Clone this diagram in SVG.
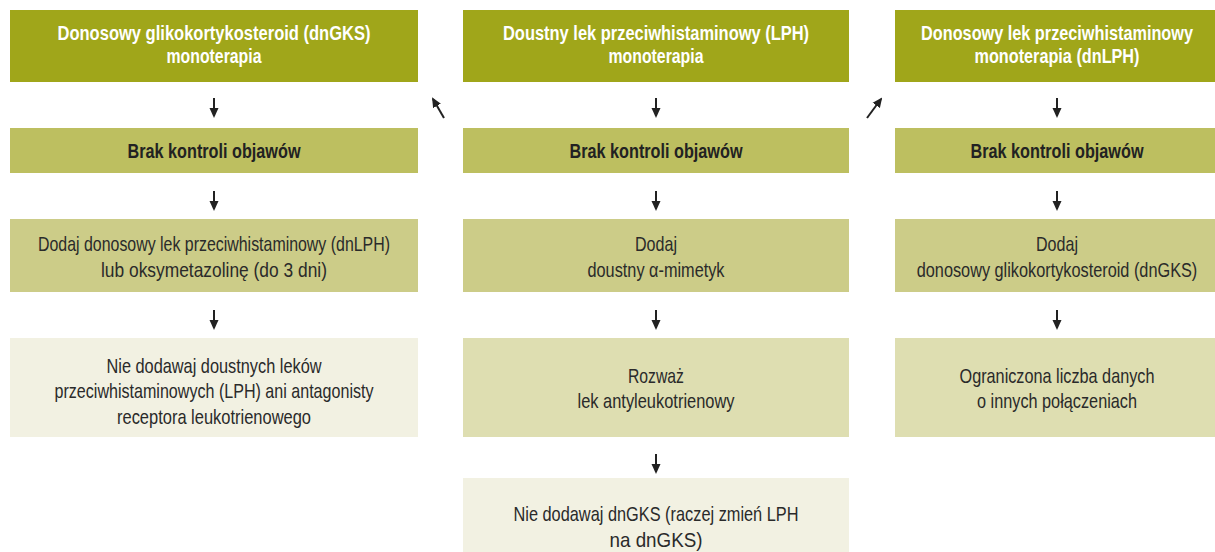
<svg xmlns="http://www.w3.org/2000/svg" width="1215" height="552" viewBox="0 0 1215 552">
<style>
text{font-family:"Liberation Sans",Arial,sans-serif;text-anchor:middle}
.h{font-size:20px;font-weight:bold;fill:#ffffff}
.b{font-size:20px;font-weight:bold;fill:#222222}
.t{font-size:21px;fill:#2a2a2a}
.r1{fill:#a0a61a}
.r2{fill:#bdbf60}
.r3{fill:#cccc88}
.r4{fill:#dedeb1}
.r5{fill:#f2f1e2}
.ln{stroke:#222;stroke-width:2;fill:none}
</style>
<defs>
<marker id="ah" viewBox="0 0 10 10" refX="8" refY="5" markerWidth="5" markerHeight="5" orient="auto" markerUnits="strokeWidth">
<path d="M0,0.5 L10,5 L0,9.5 z" fill="#222"/>
</marker>
</defs>
<rect width="1215" height="552" fill="#ffffff"/>

<g id="col1-n1"><rect class="r1" x="10" y="10" width="408" height="72"/>
<text class="h" x="214" y="40" textLength="313" lengthAdjust="spacingAndGlyphs">Donosowy glikokortykosteroid (dnGKS)</text>
<text class="h" x="214" y="63" textLength="95" lengthAdjust="spacingAndGlyphs">monoterapia</text></g>
<g id="col1-n2"><rect class="r2" x="10" y="128" width="408" height="45"/>
<text class="b" x="214" y="158" textLength="173" lengthAdjust="spacingAndGlyphs">Brak kontroli objawów</text></g>
<g id="col1-n3"><rect class="r3" x="10" y="219" width="408" height="73"/>
<text class="t" x="214" y="251" textLength="352" lengthAdjust="spacingAndGlyphs">Dodaj donosowy lek przeciwhistaminowy (dnLPH)</text>
<text class="t" x="214" y="277" textLength="226" lengthAdjust="spacingAndGlyphs">lub oksymetazolinę (do 3 dni)</text></g>
<g id="col1-n4"><rect class="r5" x="10" y="338" width="408" height="99"/>
<text class="t" x="214" y="373" textLength="215" lengthAdjust="spacingAndGlyphs">Nie dodawaj doustnych leków</text>
<text class="t" x="214" y="398" textLength="319" lengthAdjust="spacingAndGlyphs">przeciwhistaminowych (LPH) ani antagonisty</text>
<text class="t" x="214" y="424" textLength="194" lengthAdjust="spacingAndGlyphs">receptora leukotrienowego</text></g>

<g id="col2-n1"><rect class="r1" x="463" y="10" width="386" height="72"/>
<text class="h" x="656" y="40" textLength="306" lengthAdjust="spacingAndGlyphs">Doustny lek przeciwhistaminowy (LPH)</text>
<text class="h" x="656" y="63" textLength="95" lengthAdjust="spacingAndGlyphs">monoterapia</text></g>
<g id="col2-n2"><rect class="r2" x="463" y="128" width="386" height="45"/>
<text class="b" x="656" y="158" textLength="173" lengthAdjust="spacingAndGlyphs">Brak kontroli objawów</text></g>
<g id="col2-n3"><rect class="r3" x="463" y="219" width="386" height="73"/>
<text class="t" x="656" y="251" textLength="42" lengthAdjust="spacingAndGlyphs">Dodaj</text>
<text class="t" x="656" y="277" textLength="137" lengthAdjust="spacingAndGlyphs">doustny α-mimetyk</text></g>
<g id="col2-n4"><rect class="r4" x="463" y="338" width="386" height="99"/>
<text class="t" x="656" y="383" textLength="56" lengthAdjust="spacingAndGlyphs">Rozważ</text>
<text class="t" x="656" y="408" textLength="157" lengthAdjust="spacingAndGlyphs">lek antyleukotrienowy</text></g>
<g id="col2-n5"><rect class="r5" x="463" y="478" width="386" height="74"/>
<text class="t" x="656" y="521" textLength="285" lengthAdjust="spacingAndGlyphs">Nie dodawaj dnGKS (raczej zmień LPH</text>
<text class="t" x="656" y="547" textLength="93" lengthAdjust="spacingAndGlyphs">na dnGKS)</text></g>

<g id="col3-n1"><rect class="r1" x="895" y="10" width="320" height="72"/>
<text class="h" x="0" y="0" transform="translate(1057 40) scale(0.813 1)">Donosowy lek przeciwhistaminowy</text>
<text class="h" x="1057" y="63" textLength="165" lengthAdjust="spacingAndGlyphs">monoterapia (dnLPH)</text></g>
<g id="col3-n2"><rect class="r2" x="895" y="128" width="320" height="45"/>
<text class="b" x="1057" y="158" textLength="173" lengthAdjust="spacingAndGlyphs">Brak kontroli objawów</text></g>
<g id="col3-n3"><rect class="r3" x="895" y="219" width="320" height="73"/>
<text class="t" x="1057" y="251" textLength="42" lengthAdjust="spacingAndGlyphs">Dodaj</text>
<text class="t" x="0" y="0" transform="translate(1057 277) scale(0.776 1)">donosowy glikokortykosteroid (dnGKS)</text></g>
<g id="col3-n4"><rect class="r4" x="895" y="338" width="320" height="99"/>
<text class="t" x="1057" y="383" textLength="195" lengthAdjust="spacingAndGlyphs">Ograniczona liczba danych</text>
<text class="t" x="1057" y="408" textLength="160" lengthAdjust="spacingAndGlyphs">o innych połączeniach</text></g>

<g id="connectors">
<path class="ln" marker-end="url(#ah)" d="M214,98 V116"/>
<path class="ln" marker-end="url(#ah)" d="M214,191 V209"/>
<path class="ln" marker-end="url(#ah)" d="M214,310 V328"/>
<path class="ln" marker-end="url(#ah)" d="M656,98 V116"/>
<path class="ln" marker-end="url(#ah)" d="M656,191 V209"/>
<path class="ln" marker-end="url(#ah)" d="M656,310 V328"/>
<path class="ln" marker-end="url(#ah)" d="M656,454 V472"/>
<path class="ln" marker-end="url(#ah)" d="M1057,98 V116"/>
<path class="ln" marker-end="url(#ah)" d="M1057,191 V209"/>
<path class="ln" marker-end="url(#ah)" d="M1057,310 V328"/>
<path class="ln" marker-end="url(#ah)" d="M444,118 L433,99"/>
<path class="ln" marker-end="url(#ah)" d="M867,118 L881,99"/>
</g>
</svg>
